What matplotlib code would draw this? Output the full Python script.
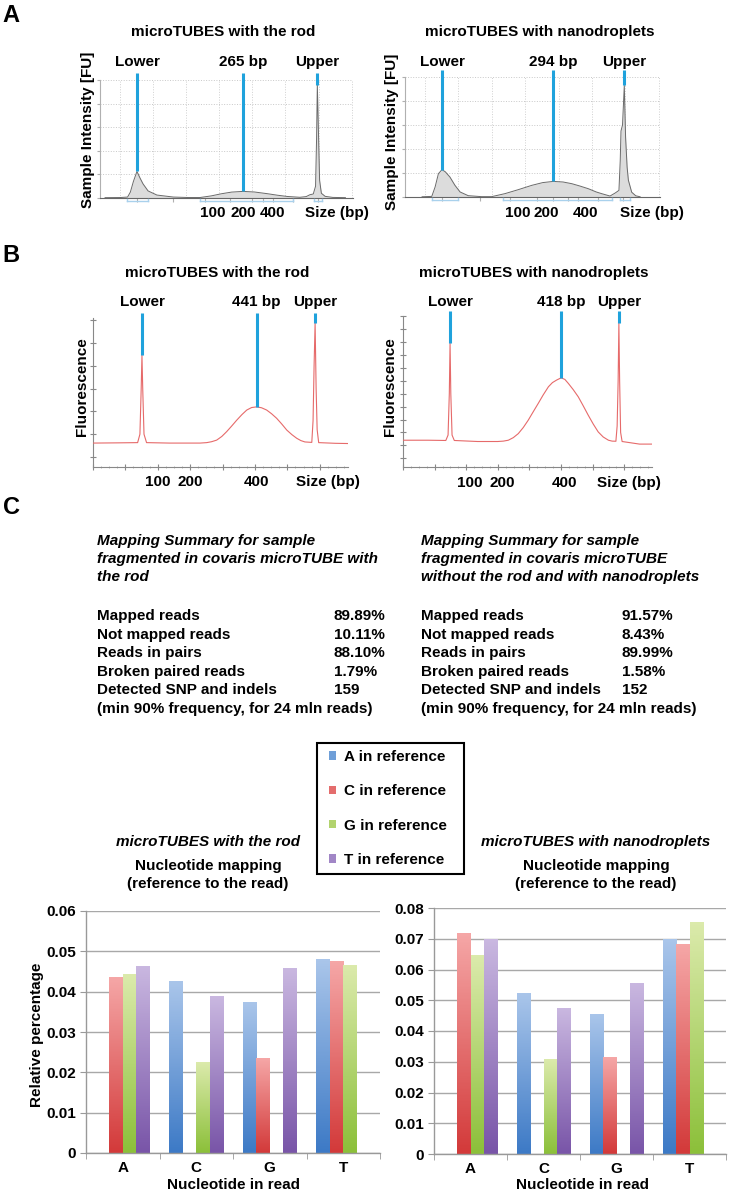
import numpy as np
import matplotlib
matplotlib.use('Agg')
import matplotlib.pyplot as plt
from matplotlib.colors import LinearSegmentedColormap
from matplotlib.patches import Patch, Rectangle

plt.rcParams['font.family'] = ['Liberation Sans', 'DejaVu Sans']
plt.rcParams['font.weight'] = 'bold'
plt.rcParams['font.size'] = 11

# ---------------- data ----------------
# Panel A (Bioanalyzer-like traces), x in migration units, y in % of full scale
A_rod_x = [2, 8, 10.9, 12.0, 13.2, 14.6, 15.8, 17.0, 19.0, 22.5, 29, 35, 39.5, 44, 48, 52, 56.5, 61, 66, 70, 74, 79,
           81.5, 83, 84.3, 85.2, 85.6, 85.9, 86.3, 86.8, 87.5, 89, 92, 97]
A_rod_y = [0.3, 0.4, 0.8, 5, 14, 22.5, 17, 12, 6, 2.5, 0.8, 0.4, 0.4, 1.8, 3.6, 5.0, 5.6, 5.1, 3.7, 2.4, 1.3, 0.6,
           1.2, 2.8, 3.4, 10, 50, 96, 60, 15, 4, 1.4, 0.5, 0.3]
A_nano_x = [6.7, 10.5, 11.8, 13.1, 14.5, 15.8, 17.6, 19.6, 21.6, 24.8, 30, 34, 39.2, 44.4, 49.7, 54, 58.2, 62, 65.4,
            68.5, 71.9, 75, 77.1, 80.4, 82.4, 83.9, 84.4, 84.7, 85.3, 86.0, 86.5, 87.1, 87.6, 88.9, 90.5, 92.2]
A_nano_y = [0.2, 0.5, 8.3, 19.4, 22.8, 21, 16.7, 9.7, 4.2, 1.1, 0.3, 0.3, 2.8, 6.1, 9.7, 12, 13, 12.5, 11.1,
            9.2, 6.9, 4.2, 2.8, 0.8, 3.3, 5.5, 30, 55, 60, 93, 50, 25, 14, 4, 1, 0.2]
A_rod_marker_x = [14.6, 56.5, 85.9]
A_rod_marker_y = [22.5, 5.6, 96]
A_rod_marker_lab = ['Lower', '265 bp', 'Upper']
A_nano_marker_x = [14.5, 58.2, 86.0]
A_nano_marker_y = [22.8, 13, 93]
A_nano_marker_lab = ['Lower', '294 bp', 'Upper']
A_rod_ladder = [14.5, 29, 41.5, 51.4, 60, 64.6, 68.5, 76.4, 86.3]
A_nano_ladder = [14.4, 29.4, 41.2, 51.6, 58.2, 64.1, 68, 75.8, 85.6]
A_rod_regions = [(10.5, 19.1), (39.5, 76.3), (84.6, 87.6)]
A_nano_regions = [(10.5, 20.9), (38.5, 81.2), (84.3, 88.2)]
A_grid_x = [7.8, 20.9, 34.0, 47.1, 60.2, 73.3, 86.4, 99.5]
A_rod_size_pos = [44.7, 56.5, 68.0, 93.7]
A_nano_size_pos = [44.3, 55.3, 70.8, 96.9]
size_labels = ['100', '200', '400', 'Size (bp)']

# Panel B (TapeStation-like traces)
B_rod_x = [0, 10, 17.5, 18.4, 18.9, 19.2, 19.5, 20.0, 21, 30, 42, 44.6, 46.5, 48.5, 50.5, 52.4, 54.4, 56.4, 58.4,
           60.3, 62.2, 64.2, 66.1, 68.1, 70.0, 72.0, 74.0, 76.0, 78.0, 79.9, 81.5, 83.1, 85.8, 86.3, 86.7, 87.1,
           87.5, 87.9, 88.5, 95, 100]
B_rod_y = [0.61, 0.62, 0.63, 1.0, 3.0, 4.47, 3.0, 1.0, 0.63, 0.61, 0.61, 0.63, 0.67, 0.74, 0.9, 1.11, 1.36, 1.62,
           1.86, 2.06, 2.17, 2.2, 2.16, 2.06, 1.9, 1.70, 1.45, 1.18, 0.98, 0.82, 0.72, 0.66, 0.64, 1.6, 4.0, 5.88,
           3.0, 1.2, 0.63, 0.6, 0.59]
B_nano_x = [0, 10, 17.2, 18.1, 18.6, 18.9, 19.2, 19.7, 20.6, 30, 38, 40.3, 42.3, 44.3, 46.3, 48.3, 50.3, 52.3,
            54.3, 56.3, 58.4, 60.0, 61.7, 63.5, 65.0, 66.4, 68.4, 70.4, 72.4, 74.4, 76.4, 78.4, 80.4, 82.5, 84.0,
            85.5, 86.0, 86.4, 86.7, 87.0, 87.4, 88.0, 95, 100]
B_nano_y = [1.4, 1.4, 1.38, 1.8, 5.0, 8.91, 5.0, 1.8, 1.38, 1.3, 1.3, 1.33, 1.40, 1.6, 1.91, 2.38, 2.95, 3.6,
            4.24, 4.9, 5.53, 5.85, 6.05, 6.22, 6.1, 5.79, 5.3, 4.75, 4.05, 3.33, 2.65, 2.04, 1.65, 1.40, 1.33,
            1.32, 2.5, 6.0, 10.46, 6.0, 2.0, 1.3, 1.1, 1.1]
B_rod_marker_x = [19.2, 64.2, 87.1]
B_rod_marker_y = [4.47, 2.2, 5.88]
B_rod_marker_lab = ['Lower', '441 bp', 'Upper']
B_nano_marker_x = [18.9, 63.5, 86.7]
B_nano_marker_y = [8.91, 6.22, 10.46]
B_nano_marker_lab = ['Lower', '418 bp', 'Upper']
B_rod_size_pos = [25.5, 38.0, 64.3, 92.0]
B_nano_size_pos = [26.7, 40.0, 64.9, 90.8]

# Panel C text
summary_rod_title = ['Mapping Summary for sample', 'fragmented in covaris microTUBE with', 'the rod']
summary_nano_title = ['Mapping Summary for sample', 'fragmented in covaris microTUBE',
                      'without the rod and with nanodroplets']
summary_rows = ['Mapped reads', 'Not mapped reads', 'Reads in pairs', 'Broken paired reads',
                'Detected SNP and indels']
summary_rod_vals = ['89.89%', '10.11%', '88.10%', '1.79%', '159']
summary_nano_vals = ['91.57%', '8.43%', '89.99%', '1.58%', '152']
summary_note = '(min 90% frequency, for 24 mln reads)'

# Panel C bar charts: rows = nucleotide in reference, columns = nucleotide in read (A, C, G, T)
read_nt = ['A', 'C', 'G', 'T']
ref_labels = ['A in reference', 'C in reference', 'G in reference', 'T in reference']
rod_A_ref = [0, 0.0424, 0.0372, 0.0480]
rod_C_ref = [0.0436, 0, 0.0234, 0.0475]
rod_G_ref = [0.0443, 0.0224, 0, 0.0465]
rod_T_ref = [0.0463, 0.0388, 0.0457, 0]
nano_A_ref = [0, 0.0522, 0.0455, 0.0698]
nano_C_ref = [0.0717, 0, 0.0315, 0.0682]
nano_G_ref = [0.0644, 0.0306, 0, 0.0754]
nano_T_ref = [0.0698, 0.0474, 0.0556, 0]

# ---------------- styles ----------------
BLUE = '#1fa2dc'
grad_colors = [('#3d7ac6', '#a9c5ea'), ('#d33a3a', '#f5a6a6'), ('#8cc03a', '#dbeaab'), ('#7955a8', '#c9b7e0')]
legend_colors = ['#6f9fd8', '#e46d6d', '#b2d36e', '#a186c6']

W, H = 730, 1193
fig = plt.figure(figsize=(W / 100, H / 100), dpi=100)


def add_ax(l, t, r, b):
    return fig.add_axes([l / W, 1 - b / H, (r - l) / W, (b - t) / H])


def ftext(x, y, s, **kw):
    kw.setdefault('ha', 'center')
    kw.setdefault('va', 'center')
    return fig.text(x / W, 1 - y / H, s, **kw)


def markers(ax, xs, ys, labs, lab_y, top_frac):
    y0, y1 = ax.get_ylim()
    top = y0 + top_frac * (y1 - y0)
    for x, y, lab in zip(xs, ys, labs):
        ax.plot([x, x], [y, top], color=BLUE, lw=2.2, clip_on=False, zorder=5, solid_capstyle='butt')
        ax.text(x, lab_y, lab, transform=ax.get_xaxis_transform(), ha='center', va='center',
                fontsize=11, fontweight='bold')


def size_axis_labels(ax, pos, y):
    for p, l in zip(pos, size_labels):
        ax.text(p, y, l, transform=ax.get_xaxis_transform(), ha='center', va='center',
                fontsize=11, fontweight='bold', clip_on=False)


def draw_A(ax, xs, ys, ladder, regions):
    ax.set_xlim(0, 100)
    ax.set_ylim(0, 100)
    ax.fill_between(xs, ys, 0, color='#dcdcdc', zorder=2, lw=0)
    ax.plot(xs, ys, color='#6a6a6a', lw=0.7, zorder=3)
    ax.set_yticks([0, 20, 40, 60, 80, 100])
    ax.yaxis.grid(True, ls=':', color='#c8c8c8', lw=0.7)
    ax.vlines(A_grid_x, 0, 100, linestyles=':', colors='#d0d0d0', lw=0.7, zorder=1)
    ax.set_xticks(ladder)
    ax.tick_params(axis='x', length=3, color='#b0b0b0', labelbottom=False)
    ax.tick_params(axis='y', length=2, color='#b0b0b0', labelleft=False)
    for s in ['top', 'right']:
        ax.spines[s].set_visible(False)
    ax.spines['left'].set_color('#b0b0b0')
    ax.spines['left'].set_linewidth(0.8)
    ax.spines['bottom'].set_color('#666666')
    ax.spines['bottom'].set_linewidth(0.8)
    for a, b in regions:
        ax.plot([a, b], [-2.2, -2.2], color='#a9d1ec', lw=1, clip_on=False, zorder=4)
        ax.plot([a, a], [-2.2, -0.5], color='#a9d1ec', lw=1, clip_on=False, zorder=4)
        ax.plot([b, b], [-2.2, -0.5], color='#a9d1ec', lw=1, clip_on=False, zorder=4)


def draw_B(ax, xs, ys, ylim, yticks):
    ax.set_xlim(0, 100)
    ax.set_ylim(*ylim)
    ax.plot(xs, ys, color='#e66a6a', lw=0.8, zorder=3)
    ax.set_yticks(yticks)
    ax.set_xticks(np.arange(0, 101, 12.7))
    ax.set_xticks(np.arange(0, 101, 12.7 / 4), minor=True)
    ax.tick_params(axis='both', which='major', length=4, direction='inout', color='#888888',
                   labelbottom=False, labelleft=False)
    ax.tick_params(axis='x', which='minor', length=2, direction='inout', color='#aaaaaa')
    for s in ['top', 'right']:
        ax.spines[s].set_visible(False)
    for s in ['left', 'bottom']:
        ax.spines[s].set_color('#888888')
        ax.spines[s].set_linewidth(0.8)


# ---------------- Panel A ----------------
ftext(11, 16, 'A', fontsize=17, fontweight='bold')
ftext(223, 32, 'microTUBES with the rod', fontsize=11, fontweight='bold')
ftext(540, 32, 'microTUBES with nanodroplets', fontsize=11, fontweight='bold')
ftext(88, 130, 'Sample Intensity [FU]', rotation=90, fontsize=11, fontweight='bold')
ftext(392, 132, 'Sample Intensity [FU]', rotation=90, fontsize=11, fontweight='bold')

axA1 = add_ax(100, 80, 353, 198)
draw_A(axA1, A_rod_x, A_rod_y, A_rod_ladder, A_rod_regions)
markers(axA1, A_rod_marker_x, A_rod_marker_y, A_rod_marker_lab, 1.155, 1.06)
size_axis_labels(axA1, A_rod_size_pos, -0.13)

axA2 = add_ax(405, 77, 660, 197)
draw_A(axA2, A_nano_x, A_nano_y, A_nano_ladder, A_nano_regions)
markers(axA2, A_nano_marker_x, A_nano_marker_y, A_nano_marker_lab, 1.125, 1.058)
size_axis_labels(axA2, A_nano_size_pos, -0.133)

# ---------------- Panel B ----------------
ftext(11, 255, 'B', fontsize=17, fontweight='bold')
ftext(217, 273, 'microTUBES with the rod', fontsize=11, fontweight='bold')
ftext(534, 273, 'microTUBES with nanodroplets', fontsize=11, fontweight='bold')
ftext(82, 387, 'Fluorescence', rotation=90, fontsize=11, fontweight='bold')
ftext(390, 387, 'Fluorescence', rotation=90, fontsize=11, fontweight='bold')

axB1 = add_ax(93, 318, 348, 467)
draw_B(axB1, B_rod_x, B_rod_y, (-0.44, 6.1), range(0, 7))
markers(axB1, B_rod_marker_x, B_rod_marker_y, B_rod_marker_lab, 1.109, 1.032)
size_axis_labels(axB1, B_rod_size_pos, -0.099)

axB2 = add_ax(403, 316, 652, 467)
draw_B(axB2, B_nano_x, B_nano_y, (-0.67, 11.0), range(0, 12))
markers(axB2, B_nano_marker_x, B_nano_marker_y, B_nano_marker_lab, 1.095, 1.03)
size_axis_labels(axB2, B_nano_size_pos, -0.106)

# ---------------- Panel C text ----------------
ftext(11, 507, 'C', fontsize=17, fontweight='bold')
for x0, xv, title, vals in [(97, 334, summary_rod_title, summary_rod_vals),
                            (421, 622, summary_nano_title, summary_nano_vals)]:
    for i, line in enumerate(title):
        ftext(x0, 541 + 18.2 * i, line, ha='left', fontsize=11, fontweight='bold', style='italic')
    for i, (row, v) in enumerate(zip(summary_rows, vals)):
        ftext(x0, 616 + 18.6 * i, row, ha='left', fontsize=11, fontweight='bold')
        ftext(xv, 616 + 18.6 * i, v, ha='left', fontsize=11, fontweight='bold')
    ftext(x0, 709, summary_note, ha='left', fontsize=11, fontweight='bold')


# ---------------- Panel C bar charts ----------------
def gradient_bars(ax, xs, vals, width, bottom_c, top_c):
    cmap = LinearSegmentedColormap.from_list('g', [bottom_c, top_c])
    bars = ax.bar(xs, vals, width, color='none', edgecolor='none', zorder=2)
    grad = np.linspace(0, 1, 64).reshape(-1, 1)
    for r in bars:
        h = r.get_height()
        if h <= 0:
            continue
        x0 = r.get_x()
        ax.imshow(grad, extent=[x0, x0 + r.get_width(), 0, h], origin='lower', cmap=cmap,
                  aspect='auto', zorder=2, interpolation='bilinear')
    return bars


def draw_bars(ax, series, ymax):
    xc = np.arange(len(read_nt))
    w = 0.182
    for i, vals in enumerate(series):
        gradient_bars(ax, xc + (i - 1.5) * w, vals, w, *grad_colors[i])
    ax.set_xlim(-0.5, len(read_nt) - 0.5)
    ax.set_ylim(0, ymax)
    ticks = np.round(np.arange(0, ymax + 1e-9, 0.01), 2)
    ax.set_yticks(ticks, [f'{t:g}' for t in ticks])
    ax.yaxis.grid(True, color='#a8a8a8', lw=1)
    ax.set_axisbelow(True)
    ax.set_xticks(xc, read_nt)
    ax.set_xticks(np.arange(-0.5, len(read_nt)), minor=True)
    ax.tick_params(axis='x', which='major', length=0, pad=6, labelsize=11)
    ax.tick_params(axis='x', which='minor', length=4, color='#999999')
    ax.tick_params(axis='y', length=4, color='#999999', pad=3, labelsize=11)
    for s in ['top', 'right']:
        ax.spines[s].set_visible(False)
    for s in ['left', 'bottom']:
        ax.spines[s].set_color('#999999')
        ax.spines[s].set_linewidth(1)
    for lab in ax.get_xticklabels() + ax.get_yticklabels():
        lab.set_fontweight('bold')


axC1 = add_ax(86, 911, 380, 1153)
draw_bars(axC1, [rod_A_ref, rod_C_ref, rod_G_ref, rod_T_ref], 0.06)
axC2 = add_ax(434, 908, 726, 1154)
draw_bars(axC2, [nano_A_ref, nano_C_ref, nano_G_ref, nano_T_ref], 0.08)

for xc, tt in [(208, 'microTUBES with the rod'), (596, 'microTUBES with nanodroplets')]:
    ftext(xc, 842, tt, fontsize=11, fontweight='bold', style='italic')
    ftext(xc, 866, 'Nucleotide mapping', fontsize=11, fontweight='bold')
    ftext(xc, 884, '(reference to the read)', fontsize=11, fontweight='bold')

ftext(37, 1035, 'Relative percentage', rotation=90, fontsize=11, fontweight='bold')
ftext(233, 1185, 'Nucleotide in read', fontsize=11, fontweight='bold')
ftext(582, 1185, 'Nucleotide in read', fontsize=11, fontweight='bold')

# Legend
handles = [Patch(facecolor=c, edgecolor='none') for c in legend_colors]
leg = fig.legend(handles, ref_labels, loc='upper left', bbox_to_anchor=(329 / W, 1 - 750 / H),
                 frameon=False, borderaxespad=0, borderpad=0, handlelength=0.45, handleheight=0.45,
                 handletextpad=0.55, labelspacing=1.33, prop=dict(weight='bold', size=11))
fig.add_artist(Rectangle((317 / W, 1 - 874 / H), (464 - 317) / W, (874 - 743) / H,
                         transform=fig.transFigure, fill=False, edgecolor='black', lw=1.5))

fig.savefig('out.png', dpi=100)
